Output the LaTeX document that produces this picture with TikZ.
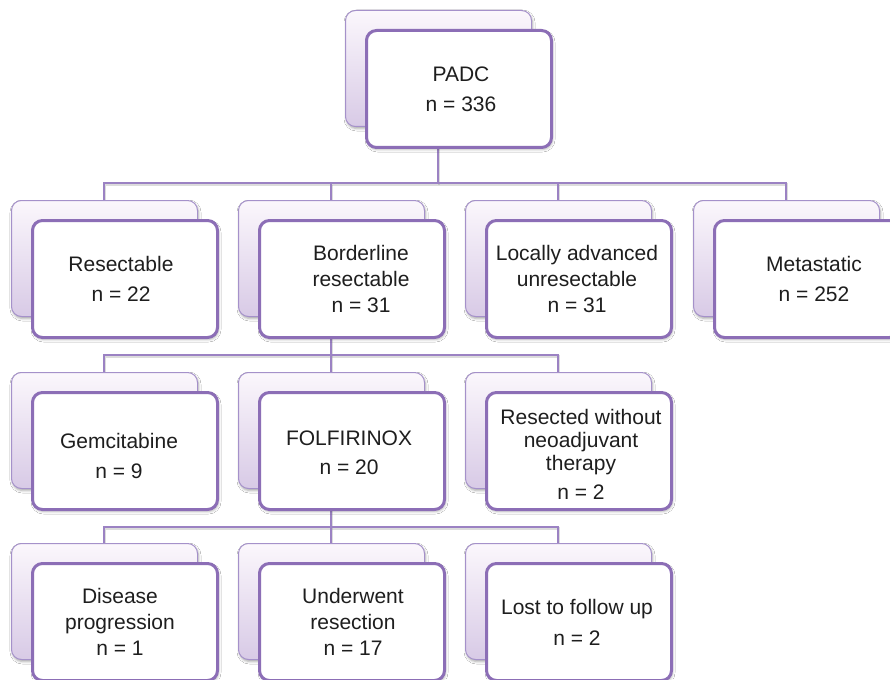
\documentclass[tikz,border=0pt]{standalone}
\usepackage{fontspec}
\setmainfont{Liberation Sans}
\usetikzlibrary{shadows.blur}
\definecolor{frontc}{RGB}{140,110,182}
\definecolor{backc}{RGB}{165,145,202}
\definecolor{backtop}{RGB}{251,247,252}
\definecolor{backbot}{RGB}{216,202,230}
\definecolor{connc}{RGB}{155,130,195}
\definecolor{txtc}{RGB}{30,30,30}
\tikzset{
  backbox/.style={draw=backc, line width=1pt, rounded corners=10pt,
    top color=backtop, bottom color=backbot,
    minimum width=186pt, minimum height=116pt, inner sep=0pt, outer sep=0pt,
    anchor=north west,
    blur shadow={shadow xshift=1pt, shadow yshift=-2pt, shadow blur radius=2.5pt, shadow opacity=35}},
  frontbox/.style={draw=frontc, line width=3pt, rounded corners=10pt, fill=white,
    minimum width=185pt, minimum height=117pt, inner sep=0pt, outer sep=0pt,
    anchor=north west,
    blur shadow={shadow xshift=1pt, shadow yshift=-2pt, shadow blur radius=2.5pt, shadow opacity=30}},
  txt/.style={align=center, text=txtc, inner sep=0pt,
    font=\fontsize{21}{26}\selectfont},
  conn/.style={draw=connc, line width=2pt,
    preaction={draw=black!45, opacity=0.3, line width=2.5pt, transform canvas={xshift=1pt, yshift=-1.5pt}}},
}
% name, x, y (back box top-left, px), text dx, text dy (down), text
\newcommand\pdbox[6]{%
  \node[backbox] (#1b) at (#2+0.5,#3+0.5) {};
  \node[frontbox] (#1f) at (#2+21.5,#3+20.5) {};
  \node[txt] (#1t) at ([xshift=#4pt, yshift=-#5pt]#1f.center) {#6};
}
\begin{document}
\begin{tikzpicture}[x=1pt, y=-1pt]
\path[use as bounding box] (0,0) rectangle (890,679);
\clip (0,0) rectangle (890,679);
\fill[white] (0,0) rectangle (890,679);

\coordinate (h0) at (0,183);
\coordinate (h1) at (0,355);
\coordinate (h2) at (0,527);

% connectors (drawn first, behind boxes); boxes defined via coordinates below
\coordinate (padcX) at (438,0);
\coordinate (c0) at (104,0);
\coordinate (c1) at (331,0);
\coordinate (c2) at (558,0);
\coordinate (c3) at (786,0);

\draw[conn] (padcX |- 0,146) -- (padcX |- h0);
\draw[conn] (c0 |- 0,201) -- (c0 |- h0) -- (c3 |- h0) -- (c3 |- 0,201);
\draw[conn] (c1 |- h0) -- (c1 |- 0,201);
\draw[conn] (c2 |- h0) -- (c2 |- 0,201);

\draw[conn] (c1 |- 0,336) -- (c1 |- h1);
\draw[conn] (c0 |- 0,373) -- (c0 |- h1) -- (c2 |- h1) -- (c2 |- 0,373);
\draw[conn] (c1 |- h1) -- (c1 |- 0,373);

\draw[conn] (c1 |- 0,508) -- (c1 |- h2);
\draw[conn] (c0 |- 0,544) -- (c0 |- h2) -- (c2 |- h2) -- (c2 |- 0,544);
\draw[conn] (c1 |- h2) -- (c1 |- 0,544);

% boxes
\pdbox{padc}{345}{10}{2}{0}{PADC\\[4pt] n = 336}

\pdbox{res}{11}{200}{-4}{0}{Resectable\\[4pt] n = 22}
\pdbox{bord}{238}{200}{9}{0}{Borderline\\resectable\\n = 31}
\pdbox{loc}{465}{200}{-2}{0}{Locally advanced\\unresectable\\n = 31}
\pdbox{met}{693}{200}{7}{0}{Metastatic\\[4pt] n = 252}

\pdbox{gem}{11}{372}{-6}{5}{Gemcitabine\\[4pt] n = 9}
\pdbox{fol}{238}{372}{-3}{2}{FOLFIRINOX\\[3pt] n = 20}
\pdbox{rwo}{465}{372}{2}{3}{Resected without\\[-3pt] neoadjuvant\\[-3pt] therapy\\[3pt] n = 2}

\pdbox{dis}{11}{543}{-5}{0}{Disease\\progression\\n = 1}
\pdbox{und}{238}{543}{1}{0}{Underwent\\resection\\n = 17}
\pdbox{lost}{465}{543}{-2}{0}{Lost to follow up\\[5pt] n = 2}
\end{tikzpicture}
\end{document}
